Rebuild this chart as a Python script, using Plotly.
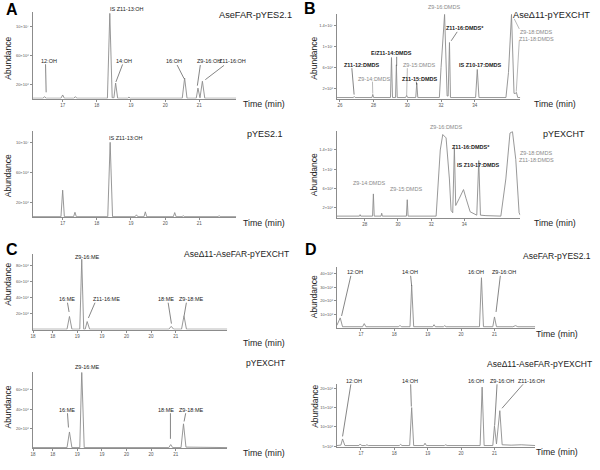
import plotly.graph_objects as go

# ---------------- DATA (retention time in min, abundance in units of 10^6) ----------------
# Panel A, AseFAR-pYES2.1
a1_time = [16.12, 16.42, 16.47, 16.52, 16.95, 17.0, 17.05, 17.32, 17.37, 17.42, 18.31, 18.38, 18.45,
           18.5, 18.55, 18.61, 18.9, 18.94, 18.98, 20.5, 20.57, 20.64, 20.91, 20.96, 21.02, 21.09, 21.16, 22.08]
a1_abund = [0.5, 0.5, 2.5, 0.5, 0.5, 5, 0.5, 0.5, 2.5, 0.5, 0.5, 118, 1,
            1, 21.5, 0.5, 0.5, 2, 0.5, 0.5, 28.5, 0.5, 0.5, 14.5, 1, 24, 0.5, 0.5]
# Panel A, pYES2.1
a2_time = [16.12, 16.95, 17.0, 17.05, 17.32, 17.36, 17.4, 18.32, 18.39, 18.46, 19.12, 19.16, 19.2,
           19.38, 19.42, 19.46, 20.24, 20.28, 20.32, 20.5, 20.53, 20.56, 21.55, 21.58, 21.61, 22.08]
a2_abund = [0.5, 0.5, 36, 0.5, 0.5, 6.4, 0.5, 0.5, 100, 0.5, 0.5, 3, 0.5,
            0.5, 7, 0.5, 0.5, 6, 0.5, 0.5, 2, 0.5, 0.5, 2, 0.5, 0.5]
# Panel B, AseΔ11-pYEXCHT
b1_time = [25.82, 26.8, 26.85, 26.9, 27.9, 27.95, 28.0, 29.0, 29.06, 29.12, 29.3, 29.35, 29.4,
           29.9, 29.96, 30.02, 30.5, 30.56, 30.62, 31.9, 32.0, 32.21, 32.36, 32.42, 32.5, 32.56,
           34.05, 34.15, 34.25, 35.85, 36.0, 36.18, 36.33, 36.42, 36.47, 36.55, 36.7]
b1_abund = [0.2, 0.2, 0.4, 0.2, 0.2, 0.8, 0.2, 0.2, 7.9, 0.2, 0.2, 6.5, 0.2,
            0.2, 0.6, 0.2, 0.2, 3.0, 0.2, 0.2, 6, 16.2, 0.5, 0.5, 10.8, 0.2,
            0.2, 5.6, 0.2, 0.2, 5, 16.2, 1.0, 1.0, 1.2, 0.2, 0.2]
# Panel B, pYEXCHT
b2_time = [26.32, 27.68, 27.72, 27.76, 28.47, 28.52, 28.57, 28.98, 29.02, 29.06, 30.51, 30.56, 30.61,
           32.3, 32.55, 32.7, 32.9, 33.1, 33.2, 33.3, 33.4, 33.48, 33.7, 33.95, 34.1, 34.35,
           34.75, 34.87, 34.97, 35.3, 36.2, 36.5, 36.75, 36.9, 37.1, 37.3, 37.37]
b2_abund = [0.3, 0.3, 0.6, 0.3, 0.3, 4.9, 0.3, 0.3, 0.9, 0.3, 0.3, 3.7, 0.3,
            0.3, 14, 17.2, 16.5, 8, 1.5, 1.0, 14.5, 2.5, 4, 5.8, 4, 1.2,
            0.5, 11.8, 0.5, 0.4, 0.3, 8, 17.5, 17.8, 12, 1, 0.5]
# Panel C, AseΔ11-AseFAR-pYEXCHT
c1_time = [17.59, 18.29, 18.34, 18.39, 18.55, 18.59, 18.63, 18.66, 18.70, 18.75,
           20.36, 20.41, 20.46, 20.62, 20.67, 20.72, 21.55]
c1_abund = [0.5, 0.5, 16.3, 0.5, 0.5, 87.4, 0.5, 0.5, 10, 0.5,
            0.5, 4, 0.5, 0.5, 17, 0.5, 0.5]
# Panel C, pYEXCHT
c2_time = [17.59, 17.74, 17.78, 17.82, 18.29, 18.34, 18.39, 18.55, 18.59, 18.64,
           20.36, 20.40, 20.44, 20.61, 20.66, 20.71, 21.55]
c2_abund = [0.5, 0.5, 1, 0.5, 0.5, 16.6, 0.5, 0.5, 80, 0.5,
            0.5, 3.6, 0.5, 0.5, 25, 1, 0.5]
# Panel D, AseFAR-pYES2.1
d1_time = [16.28, 16.33, 16.38, 16.45, 17.05, 17.1, 17.15, 18.13, 18.17, 18.21, 18.47, 18.52, 18.58,
           19.15, 19.19, 19.23, 19.47, 19.51, 19.55, 20.55, 20.61, 20.67, 20.95, 21.0, 21.06,
           21.55, 21.63, 21.7, 22.22]
d1_abund = [2, 5, 7.5, 1, 1, 3.3, 1, 1, 2, 1, 1, 31.5, 1,
            1, 2.5, 1, 1, 1.8, 1, 1, 37, 1, 1, 8.2, 1,
            1, 1.8, 1, 1]
# Panel D, AseΔ11-AseFAR-pYEXCHT
d2_time = [16.28, 16.4, 16.45, 16.52, 16.94, 16.98, 17.02, 17.14, 17.18, 17.22, 18.15, 18.19, 18.23,
           18.46, 18.52, 18.58, 18.88, 18.92, 18.96, 19.5, 19.54, 19.58, 20.57, 20.63, 20.69,
           20.95, 21.0, 21.06, 21.16, 21.23, 21.5, 21.8, 22.22]
d2_abund = [5.2, 5.3, 6.9, 5.2, 5.2, 5.6, 5.2, 5.2, 5.4, 5.2, 5.2, 5.5, 5.2,
            5.2, 15, 5.2, 5.2, 5.8, 5.2, 5.2, 5.4, 5.2, 5.2, 20.3, 5.2,
            5.2, 10.3, 5.6, 14.2, 5.4, 5.3, 5.4, 5.2]

# tick labels
xt_A = [17, 18, 19, 20, 21]
xt_B = [26, 28, 30, 32, 34]
xt_C = [17.6, 18, 18.5, 19, 19.5, 20, 20.5]
xt_C_text = ["18", "18", "19", "19", "20", "20", "21"]
yt_A = [20, 60, 100]
yt_A_text = ["20×10⁶", "60×10⁶", "10×10⁷"]
yt_B = [2, 6, 10, 14]
yt_B_text = ["2×10⁶", "6×10⁶", "1×10⁷", "1.4×10⁷"]
yt_C1 = [20, 40, 60, 80]
yt_C2 = [20, 40, 60]
yt_D1 = [10, 20, 30, 40]
yt_D2 = [5, 10, 15, 20]

# ---------------- LAYOUT ----------------
W, H = 600, 470
FONT = "Liberation Sans, Arial, sans-serif"
LINE = "#8c8c8c"
DARK = "#222222"
GRAY = "#8a8a8a"

def px(x):
    return x / W

def py(y):
    return 1 - y / H

# (time, abundance, pixel box x0,x1,ytop,ybottom, xrange, yrange, xticks, xtext, yticks, ytext)
panels = [
    (a1_time, a1_abund, (30.7, 235, 12, 99), [16.12, 22.08], [0, 120], xt_A, None, yt_A, yt_A_text),
    (a2_time, a2_abund, (30.7, 235, 131.7, 218), [16.12, 22.08], [0, 115], xt_A, None, yt_A, yt_A_text),
    (b1_time, b1_abund, (336, 520, 14, 99), [25.82, 36.7], [0, 16.3], xt_B, None, yt_B, yt_B_text),
    (b2_time, b2_abund, (336, 520, 131.7, 218.5), [26.32, 37.37], [0, 17.9], xt_B, None, yt_B, yt_B_text),
    (c1_time, c1_abund, (30.7, 226, 255, 331), [17.59, 21.55], [0, 94], xt_C, xt_C_text, yt_C1,
     [f"{v}×10⁶" for v in yt_C1]),
    (c2_time, c2_abund, (30.7, 226, 374, 450), [17.59, 21.55], [0, 78], xt_C, xt_C_text, yt_C2,
     [f"{v}×10⁶" for v in yt_C2]),
    (d1_time, d1_abund, (336, 535, 268, 329.5), [16.28, 22.22], [0, 45], xt_A, None, yt_D1,
     [f"{v}×10⁶" for v in yt_D1]),
    (d2_time, d2_abund, (336, 535, 386, 449), [16.28, 22.22], [4.8, 21.0], xt_A, None, yt_D2,
     [f"{v}×10⁶" for v in yt_D2]),
]

fig = go.Figure()
layout = dict(width=W, height=H, margin=dict(l=0, r=0, t=0, b=0),
              paper_bgcolor="white", plot_bgcolor="white", showlegend=False,
              font=dict(family=FONT, color=DARK))

for i, (t, v, box, xr, yr, xt, xtt, yt, ytt) in enumerate(panels, start=1):
    sfx = "" if i == 1 else str(i)
    x0, x1, yt0, yb0 = box
    fig.add_trace(go.Scatter(x=t, y=v, mode="lines", xaxis="x" + sfx, yaxis="y" + sfx,
                             line=dict(color=LINE, width=0.9), hoverinfo="skip"))
    layout["xaxis" + sfx] = dict(domain=[px(x0), px(x1)], range=xr, anchor="y" + sfx,
                                 showline=True, linecolor=LINE, linewidth=1, ticks="outside",
                                 ticklen=2, tickcolor=LINE, tickwidth=0.8, tickvals=xt,
                                 ticktext=xtt if xtt else [str(x) for x in xt],
                                 tickfont=dict(size=4.5, color="#555"), showgrid=False,
                                 zeroline=False, fixedrange=True)
    layout["yaxis" + sfx] = dict(domain=[py(yb0), py(yt0)], range=yr, anchor="x" + sfx,
                                 showline=True, linecolor=LINE, linewidth=1, ticks="outside",
                                 ticklen=2, tickcolor=LINE, tickwidth=0.8, tickvals=yt,
                                 ticktext=ytt, tickfont=dict(size=4, color="#555"),
                                 showgrid=False, zeroline=False, fixedrange=True)

annotations = []
shapes = []

def label(text, x, y, size=5.5, color=DARK, bold=False):
    annotations.append(dict(text=f"<b>{text}</b>" if bold else text, x=px(x), y=py(y),
                            xref="paper", yref="paper", showarrow=False,
                            xanchor="center", yanchor="middle",
                            font=dict(size=size, color=color, family=FONT)))

def leader(xa, ya, xb, yb, color="#333"):
    shapes.append(dict(type="line", xref="paper", yref="paper", x0=px(xa), y0=py(ya),
                       x1=px(xb), y1=py(yb), line=dict(color=color, width=0.6)))

def common(title, tx, ty, timex, timey, abx, aby, tsize=8.5):
    label(title, tx, ty, size=tsize)
    label("Time (min)", timex, timey, size=8.8)
    annotations.append(dict(text="Abundance", x=px(abx), y=py(aby), xref="paper", yref="paper",
                            showarrow=False, textangle=-90, xanchor="center", yanchor="middle",
                            font=dict(size=8.5, color=DARK, family=FONT)))

# panel letters
for letter, lx, ly in [("A", 10, 9.5), ("B", 309.5, 9), ("C", 10, 250.5), ("D", 310.5, 251)]:
    label(letter, lx, ly, size=16, color="#000", bold=True)

# ---- A top
common("AseFAR-pYES2.1", 254, 15, 263, 104.7, 6, 58, tsize=9.2)
label("12:OH", 46.7, 61); leader(43.7, 64.5, 44.3, 92.7)
label("IS Z11-13:OH", 125, 9.3)
label("14:OH", 122, 61); leader(121, 64.7, 114.3, 82.3)
label("16:OH", 173, 61); leader(175.7, 65.3, 182.7, 79)
label("Z9-16:OH", 208, 61); leader(199, 65.3, 196, 86)
label("Z11-16:OH", 231.7, 61); leader(222.7, 65.7, 204, 80)
# ---- A bottom
common("pYES2.1", 264, 134.3, 263, 224, 6, 176, tsize=9)
label("IS Z11-13:OH", 124, 138.3)

# ---- B top
common("AseΔ11-pYEXCHT", 551.7, 15, 555, 104.7, 313, 58, tsize=9.2)
label("Z11-12:DMDS", 361, 65.3, bold=True); leader(351, 68.5, 353.3, 95)
label("Z9-14:DMDS", 373.3, 79, color=GRAY); leader(371.7, 82, 372, 94, GRAY)
label("E/Z11-14:DMDS", 390.7, 53.3, bold=True); leader(396, 57, 396, 66)
label("Z9-15:DMDS", 418.3, 65, color=GRAY); leader(406.7, 68.5, 406, 96, GRAY)
label("Z11-15:DMDS", 419.3, 79, bold=True); leader(415.7, 82, 416, 85)
label("Z9-16:DMDS", 443.3, 6.7, color=GRAY)
label("Z11-16:DMDS*", 465, 28.3, bold=True); leader(456.7, 32, 450.7, 41)
label("IS Z10-17:DMDS", 480, 65, bold=True)
label("Z9-18:DMDS", 536, 31.7, color=GRAY)
label("Z11-18:DMDS", 536, 38.7, color=GRAY)
leader(519, 29, 514, 19, GRAY); leader(519, 41, 516, 92, GRAY)
# ---- B bottom
common("pYEXCHT", 564, 134.3, 555, 224, 313, 175, tsize=9)
label("Z9-16:DMDS", 445, 127.3, color=GRAY)
label("Z11-16:DMDS*", 471, 147.3, bold=True)
label("IS Z10-17:DMDS", 478, 166, bold=True)
label("Z9-14:DMDS", 368.3, 183.3, color=GRAY)
label("Z9-15:DMDS", 405, 190, color=GRAY)
label("Z9-18:DMDS", 536, 154, color=GRAY)
label("Z11-18:DMDS", 536, 161, color=GRAY)

# ---- C top
common("AseΔ11-AseFAR-pYEXCHT", 235, 255, 263.3, 344.3, 6, 285)
label("Z9-16:ME", 85, 258.3)
label("16:ME", 65, 300.7); leader(65.7, 304, 67.3, 313.3)
label("Z11-16:ME", 105, 300.7); leader(93.3, 304, 86.7, 319.3)
label("18:ME", 165, 300.7); leader(166.7, 304, 170, 325)
label("Z9-18:ME", 190, 300.7); leader(185, 304, 182.7, 317.3)
# ---- C bottom
common("pYEXCHT", 264, 365, 263, 455, 6, 408.3)
label("Z9-16:ME", 85, 368.3)
label("16:ME", 65, 411.7); leader(65.7, 415, 66.7, 429.3)
label("18:ME", 164.3, 411.7); leader(169, 415, 169, 440.7)
label("Z9-18:ME", 190, 411.7); leader(184.3, 415, 182.7, 423.3)

# ---- D top
common("AseFAR-pYES2.1", 556.7, 256.7, 556.7, 335, 313.3, 298.3)
label("12:OH", 354, 273.3); leader(350, 277, 340.7, 317.3)
label("14:OH", 409.3, 273.3); leader(410, 277, 411, 287)
label("16:OH", 476, 273.3)
label("Z9-16:OH", 504, 273.3); leader(500, 277, 495.7, 313.3)
# ---- D bottom
common("AseΔ11-AseFAR-pYEXCHT", 539, 366, 556.7, 454, 313.3, 408.3)
label("12:OH", 353.3, 382.7); leader(350, 386, 341.7, 438.3)
label("14:OH", 409.3, 382.7); leader(410, 386, 410.7, 408.3)
label("16:OH", 475.7, 382.7)
label("Z9-16:OH", 501.7, 382.7); leader(496.7, 386, 494.3, 427.3)
label("Z11-16:OH", 531, 382.7); leader(522.7, 386, 501.7, 410)

layout["annotations"] = annotations
layout["shapes"] = shapes
fig.update_layout(**layout)
fig.write_html("out.html", config={"displayModeBar": False},
               post_script="document.body.style.margin='0';document.body.style.overflow='hidden';")
